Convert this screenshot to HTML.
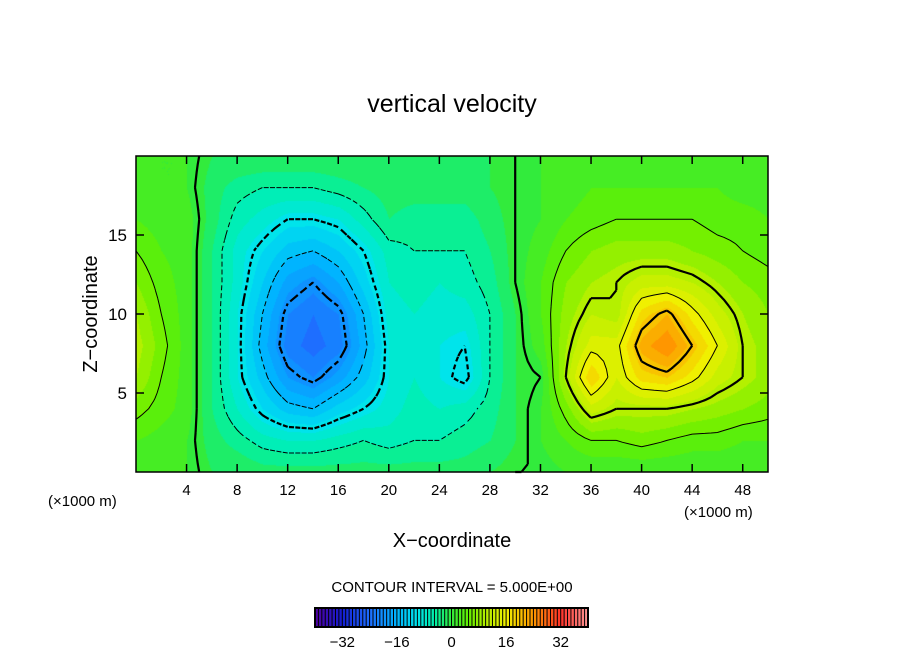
<!DOCTYPE html>
<html><head><meta charset="utf-8"><style>
body{margin:0;background:#fff;width:904px;height:654px;overflow:hidden;position:relative;font-family:"Liberation Sans",sans-serif}
#cv{position:absolute;left:136px;top:156px}
svg{position:absolute;left:0;top:0}
</style></head><body>
<canvas id="cv" width="632" height="316"></canvas>
<svg id="s" width="904" height="654">
<text x="452" y="112" font-size="25" text-anchor="middle">vertical velocity</text>
<text x="97" y="314" font-size="20" text-anchor="middle" transform="rotate(-90 97 314)">Z−coordinate</text>
<text x="452" y="547" font-size="20" text-anchor="middle">X−coordinate</text>
<text x="48" y="506" font-size="15">(×1000 m)</text>
<text x="684" y="517" font-size="15">(×1000 m)</text>
<text x="452" y="592" font-size="15" text-anchor="middle">CONTOUR INTERVAL = 5.000E+00</text>
<g id="cont"></g><g id="axes"></g><g id="cbar"></g>
</svg>
<script>
const xCoords=[0,2,4,6,8,10,12,14,16,18,20,22,24,26,28,30,32,34,36,38,40,42,44,46,48,50];
const zCoords=[20,18,16,14,12,10,8,6,4,2,0];
const row20=[1,1,1,-1,-1,-1,-1,-1,-1,-1,-1,-1,-1,-1,-1,0,1,1,1,1,1,1,1,1,1,1];
const row18=[2,1,1,-2,-4,-5,-5,-5,-4,-3,-2,-2,-2,-2,-1,0,1,2,3,3,3,3,3,3,2,2];
const row16=[3,2,2,-2,-6,-8,-10,-10,-9,-6,-3,-4,-4,-4,-2,0,1,3,4,5,5,5,5,4,4,3];
const row14=[5,3,2,-3,-8,-11,-14,-15,-13,-10,-6,-5,-5,-5,-3,0,2,5,7,8,8,8,7,6,5,4];
const row12=[7,4,2,-3,-8,-13,-18,-20,-17,-12,-7,-6,-7,-6,-4,0,3,7,9,10,12,12,11,9,7,6];
const row10=[9,5,2,-3,-9,-15,-21,-23,-21,-15,-8,-7,-8,-8,-5,-1,3,8,11,10,18,21,16,12,9,7];
const row8=[10,6,2,-3,-9,-16,-22,-24,-22,-16,-9,-8,-9,-10,-5,-1,2,9,14,14,22,25,20,15,10,8];
const row6=[9,5,2,-3,-9,-14,-19,-21,-18,-14,-9,-7,-9,-11,-5,-1,0,10,19,13,18,19,16,12,10,8];
const row4=[6,4,2,-3,-7,-11,-14,-15,-12,-10,-8,-6,-7,-6,-4,-1,1,6,12,10,10,10,9,8,7,6];
const row2=[3,2,1,-2,-4,-6,-7,-7,-6,-5,-6,-5,-5,-4,-3,-1,1,3,5,5,6,5,4,4,3,3];
const row0=[1,1,1,-1,-1,-2,-2,-2,-2,-2,-2,-2,-2,-2,-1,0,0,1,1,1,1,1,1,1,1,1];
const grid=[row20,row18,row16,row14,row12,row10,row8,row6,row4,row2,row0];
const xTicks=[4,8,12,16,20,24,28,32,36,40,44,48];
const zTicks=[5,10,15];
const levels=[-25,-20,-15,-10,-5,0,5,10,15,20];
const cbarTicks=[-32,-16,0,16,32];

const PX=136,PY=156,PW=632,PH=316;
const sx=x=>PX+x/50*PW, sz=z=>PY+(20-z)/20*PH;
function val(x,z){
  let fx=x/2, fz=(20-z)/2;
  let i=Math.min(24,Math.max(0,Math.floor(fx))), j=Math.min(9,Math.max(0,Math.floor(fz)));
  let tx=fx-i, tz=fz-j;
  return grid[j][i]*(1-tx)*(1-tz)+grid[j][i+1]*tx*(1-tz)+grid[j+1][i]*(1-tx)*tz+grid[j+1][i+1]*tx*tz;
}
const stops=[[-40,[80,0,160]],[-32,[20,30,210]],[-24,[30,110,255]],[-16,[0,180,255]],[-10,[0,228,235]],[-5,[0,240,170]],[0,[50,235,60]],[5,[100,240,0]],[10,[180,240,0]],[16,[240,240,0]],[24,[255,150,0]],[32,[255,50,40]],[40,[255,150,150]]];
function col(v){
  if(v<=stops[0][0])return stops[0][1];
  for(let k=1;k<stops.length;k++){if(v<=stops[k][0]){let a=stops[k-1],b=stops[k],t=(v-a[0])/(b[0]-a[0]);return a[1].map((c,i)=>Math.round(c+(b[1][i]-c)*t));}}
  return stops[stops.length-1][1];
}
const ctx=document.getElementById('cv').getContext('2d');
const img=ctx.createImageData(PW,PH);
for(let py=0;py<PH;py++)for(let px=0;px<PW;px++){
  let v=val(px/PW*50,20-py/PH*20);v=Math.round(v/2)*2;let c=col(v),o=(py*PW+px)*4;
  img.data[o]=c[0];img.data[o+1]=c[1];img.data[o+2]=c[2];img.data[o+3]=255;}
ctx.putImageData(img,0,0);

const NS='http://www.w3.org/2000/svg';
function mk(tag,at,parent){const e=document.createElementNS(NS,tag);for(const k in at)e.setAttribute(k,at[k]);parent.appendChild(e);return e;}
const cont=document.getElementById('cont');
const st=0.5, NX=50/st, NZ=20/st;
const F=[];for(let j=0;j<=NZ;j++){F[j]=[];for(let i=0;i<=NX;i++)F[j][i]=val(i*st,j*st);}
levels.forEach(L=>{
  let d='';
  for(let j=0;j<NZ;j++)for(let i=0;i<NX;i++){
    const c=[[i,j],[i+1,j],[i+1,j+1],[i,j+1]];
    const pts=[];
    for(let e=0;e<4;e++){const a=c[e],b=c[(e+1)%4];const va=F[a[1]][a[0]]-L,vb=F[b[1]][b[0]]-L;
      if((va<0)!==(vb<0)){const t=va/(va-vb);pts.push([sx((a[0]+(b[0]-a[0])*t)*st),sz((a[1]+(b[1]-a[1])*t)*st)]);}}
    for(let k=0;k+1<pts.length;k+=2)d+=`M${pts[k][0].toFixed(1)},${pts[k][1].toFixed(1)}L${pts[k+1][0].toFixed(1)},${pts[k+1][1].toFixed(1)}`;
  }
  const p=mk('path',{d:d,fill:'none',stroke:'#000','stroke-width':(L%10===0)?2.2:1,'stroke-dasharray':L<0?'5,4':'none'},cont);
  
  
});
const ax=document.getElementById('axes');
const fr=mk('rect',{x:PX,y:PY,width:PW,height:PH,fill:'none',stroke:'#000','stroke-width':1.5},ax);


xTicks.forEach(t=>{
  mk('line',{x1:sx(t),x2:sx(t),y1:PY+PH,y2:PY+PH-8,stroke:'#000','stroke-width':1.5},ax);
  mk('line',{x1:sx(t),x2:sx(t),y1:PY,y2:PY+8,stroke:'#000','stroke-width':1.5},ax);
  const tx=mk('text',{x:sx(t),y:495,'font-size':15,'text-anchor':'middle'},ax);tx.textContent=t;
  
  
});
zTicks.forEach(t=>{
  mk('line',{x1:PX,x2:PX+8,y1:sz(t),y2:sz(t),stroke:'#000','stroke-width':1.5},ax);
  mk('line',{x1:PX+PW,x2:PX+PW-8,y1:sz(t),y2:sz(t),stroke:'#000','stroke-width':1.5},ax);
  const tx=mk('text',{x:127,y:sz(t)+6,'font-size':17,'text-anchor':'end'},ax);tx.textContent=t;
  
  
});
const cb=document.getElementById('cbar');
const CX0=315,CX1=588,CY=608,CH=19;
const cx=v=>CX0+(v+40)/80*(CX1-CX0);
for(let v=-40;v<40;v+=1){
  const r=mk('rect',{x:cx(v),y:CY,width:(CX1-CX0)/80+0.3,height:CH,fill:'rgb('+col(v+0.5).join(',')+')'},cb);
  
  
  mk('line',{x1:cx(v),x2:cx(v),y1:CY,y2:CY+CH,stroke:'#000','stroke-width':1},cb);
}
mk('rect',{x:CX0,y:CY,width:CX1-CX0,height:CH,fill:'none',stroke:'#000','stroke-width':2},cb);
cbarTicks.forEach(t=>{const tx=mk('text',{x:cx(t),y:647,'font-size':15,'text-anchor':'middle'},cb);tx.textContent=t<0?'−'+(-t):t;
  
  });
</script>
</body></html>
